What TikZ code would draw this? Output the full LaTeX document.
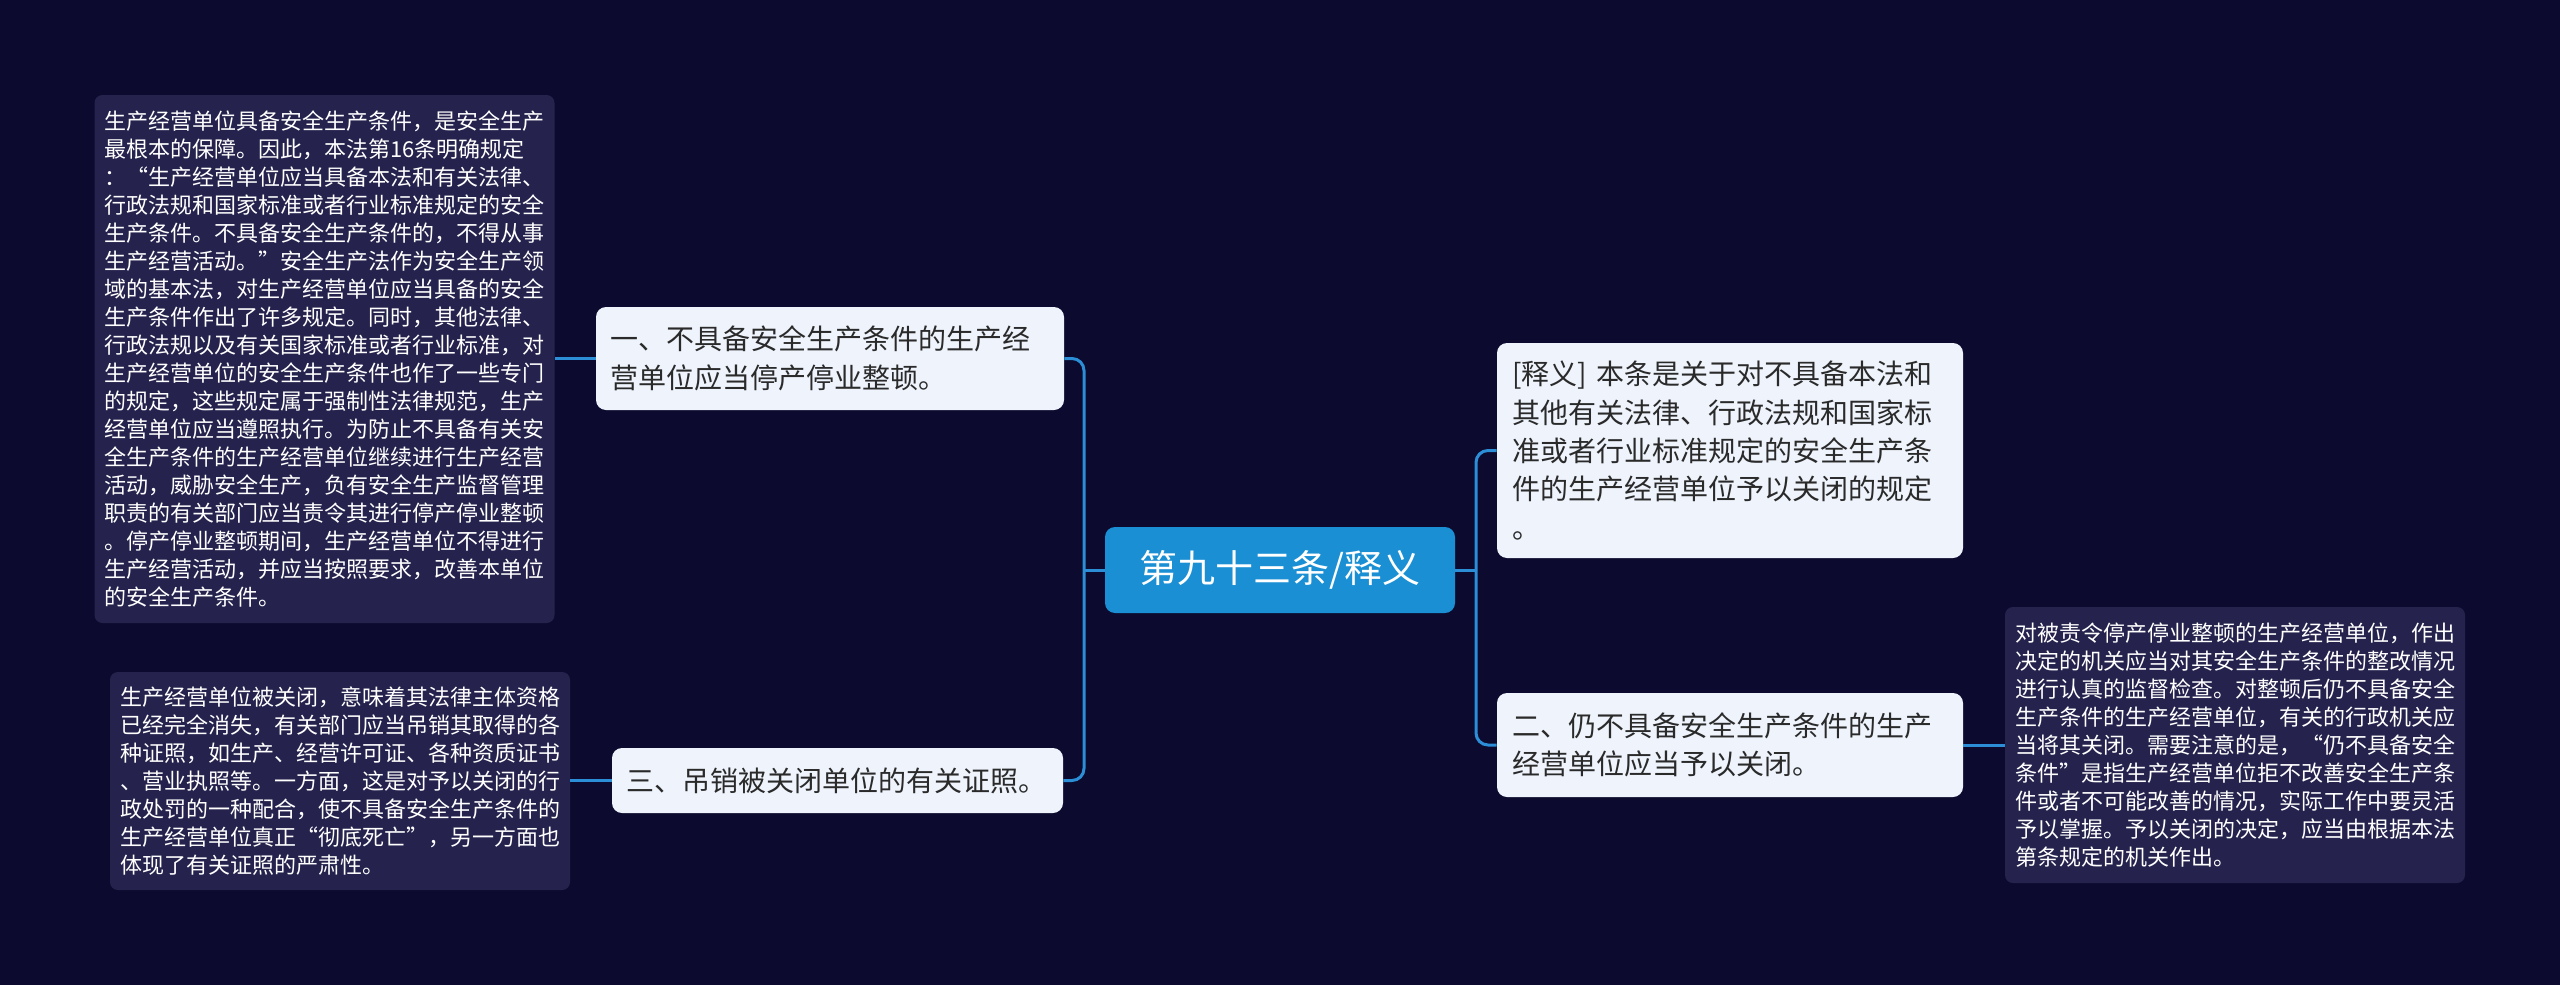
\documentclass[tikz,border=0pt]{standalone}
\usepackage{fontspec}
\setmainfont{Noto Sans CJK SC}
\usepackage{xcolor}
\usetikzlibrary{calc}

\definecolor{bgcol}{HTML}{0C0A2E}
\definecolor{notecol}{HTML}{25234D}
\definecolor{rootcol}{HTML}{1A8FD3}
\definecolor{linecol}{HTML}{2B8ED6}
\definecolor{topiccol}{HTML}{EEF3FC}
\definecolor{inkcol}{HTML}{2A2A2A}

\begin{document}
\begin{tikzpicture}[
		x=0.5pt, y=-0.5pt,
		root/.style={
			rectangle, rounded corners=5pt,
			fill=rootcol, text=white,
			minimum width=175pt, minimum height=43pt,
			font=\fontsize{19}{23}\selectfont
		},
		topic/.style={
			rectangle, rounded corners=5pt,
			fill=topiccol, text=inkcol,
			align=left, inner xsep=7pt, inner ysep=4pt,
			font=\fontsize{14}{19.2}\selectfont
		},
		note/.style={
			rectangle, rounded corners=4pt,
			fill=notecol, text=white,
			text width=220pt, align=left,
			inner xsep=5pt, inner ysep=4pt,
			font=\fontsize{11}{14}\selectfont
		},
		conn/.style={line width=1.5pt, linecol, rounded corners=6pt}
	]
	\fill[bgcol] (0,0) rectangle (2560,985);

	% centre
	\node[root] (root) at (1280,570) {第九十三条/释义};

	% left branch
	\node[topic, text width=220pt, minimum width=233pt, minimum height=51.5pt] (b1) at (830,358.5)
		{一、不具备安全生产条件的生产经\\营单位应当停产停业整顿。};
	\node[topic, text width=211pt, minimum width=225.5pt, minimum height=32.5pt] (b3) at (837.5,780.5)
		{三、吊销被关闭单位的有关证照。};

	% right branch
	\node[topic, text width=218pt, minimum width=233pt, minimum height=107.5pt] (sy) at (1730,450.5)
		{[释义] 本条是关于对不具备本法和\\其他有关法律、行政法规和国家标\\准或者行业标准规定的安全生产条\\件的生产经营单位予以关闭的规定\\。};
	\node[topic, text width=218pt, minimum width=233pt, minimum height=52pt] (b2) at (1730,745)
		{二、仍不具备安全生产条件的生产\\经营单位应当予以关闭。};

	% notes
	\node[note, minimum height=264pt] (n1) at (324.5,359)
		{生产经营单位具备安全生产条件，是安全生产\\最根本的保障。因此，本法第16条明确规定\\：“生产经营单位应当具备本法和有关法律、\\行政法规和国家标准或者行业标准规定的安全\\生产条件。不具备安全生产条件的，不得从事\\生产经营活动。”安全生产法作为安全生产领\\域的基本法，对生产经营单位应当具备的安全\\生产条件作出了许多规定。同时，其他法律、\\行政法规以及有关国家标准或者行业标准，对\\生产经营单位的安全生产条件也作了一些专门\\的规定，这些规定属于强制性法律规范，生产\\经营单位应当遵照执行。为防止不具备有关安\\全生产条件的生产经营单位继续进行生产经营\\活动，威胁安全生产，负有安全生产监督管理\\职责的有关部门应当责令其进行停产停业整顿\\。停产停业整顿期间，生产经营单位不得进行\\生产经营活动，并应当按照要求，改善本单位\\的安全生产条件。};
	\node[note, minimum height=109pt] (n3) at (340,781)
		{生产经营单位被关闭，意味着其法律主体资格\\已经完全消失，有关部门应当吊销其取得的各\\种证照，如生产、经营许可证、各种资质证书\\、营业执照等。一方面，这是对予以关闭的行\\政处罚的一种配合，使不具备安全生产条件的\\生产经营单位真正“彻底死亡”，另一方面也\\体现了有关证照的严肃性。};
	\node[note, minimum height=138pt] (n2) at (2235,745)
		{对被责令停产停业整顿的生产经营单位，作出\\决定的机关应当对其安全生产条件的整改情况\\进行认真的监督检查。对整顿后仍不具备安全\\生产条件的生产经营单位，有关的行政机关应\\当将其关闭。需要注意的是，“仍不具备安全\\条件”是指生产经营单位拒不改善安全生产条\\件或者不可能改善的情况，实际工作中要灵活\\予以掌握。予以关闭的决定，应当由根据本法\\第条规定的机关作出。};

	% connectors
	\coordinate (lj) at (1084,570);
	\coordinate (rj) at (1476,570);
	\draw[conn] (root.west) -- (lj);
	\draw[conn] (b1.east) -| (lj);
	\draw[conn] (b3.east) -| (lj);
	\draw[conn] (root.east) -- (rj);
	\draw[conn] (sy.west) -| (rj);
	\draw[conn] (b2.west) -| (rj);
	\draw[conn] (b1.west) -- (b1.west -| n1.east);
	\draw[conn] (b3.west) -- (b3.west -| n3.east);
	\draw[conn] (b2.east) -- (b2.east -| n2.west);
\end{tikzpicture}
\end{document}
